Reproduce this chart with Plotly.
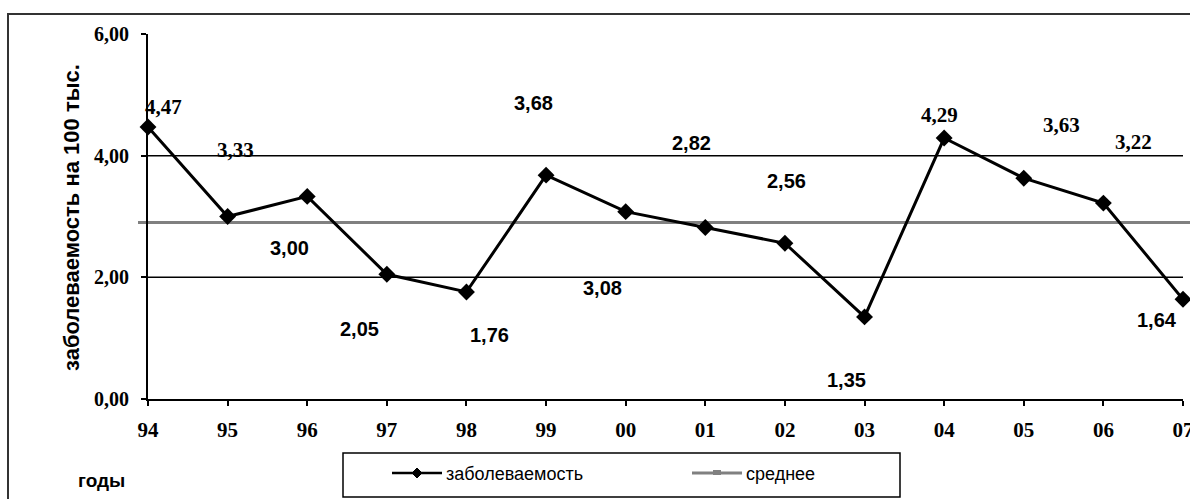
import plotly.graph_objects as go

# --- data -------------------------------------------------------------
years = ["94", "95", "96", "97", "98", "99", "00", "01", "02", "03", "04", "05", "06", "07"]
incidence = [4.47, 3.00, 3.33, 2.05, 1.76, 3.68, 3.08, 2.82, 2.56, 1.35, 4.29, 3.63, 3.22, 1.64]
mean_value = 2.90
y_ticks = [0, 2, 4, 6]
y_tick_text = ["0,00", "2,00", "4,00", "6,00"]
series_names = ["заболеваемость", "среднее"]

# --- label placement (pixel offsets from each point) -------------------
label_dx = [15, 62, -72, -27, 23, -13, -23, -14, 2, -18, -5, 38, 30, -26]
label_dy = [20, -31, 46, -55, -43, 72, -76, 84, 62, -63, 23, 53, 61, -21]
label_serif = [True, False, True, False, False, False, False, False, False, False, True, True, True, False]

W_FIG, H_FIG = 1190, 499
L, R, T, B = 148, 1183, 34, 399  # plot area in pixels


def xp(px):
    return (px - L) / (R - L)


def yp(py):
    return (B - py) / (B - T)


x_pos = list(range(len(years)))

fig = go.Figure()

fig.add_trace(go.Scatter(
    x=x_pos, y=incidence, mode="lines+markers",
    line=dict(color="black", width=3),
    marker=dict(symbol="diamond", size=13, color="black"),
    cliponaxis=False, showlegend=False, name=series_names[0],
))

shapes = []
# horizontal grid lines
for v in y_ticks[1:-1]:
    shapes.append(dict(type="line", xref="paper", yref="y", x0=0, x1=1, y0=v, y1=v,
                       line=dict(color="black", width=1.5), layer="below"))
# mean line
shapes.append(dict(type="line", xref="paper", yref="y", x0=xp(138), x1=xp(1192),
                   y0=mean_value, y1=mean_value,
                   line=dict(color="#808080", width=3), layer="below"))
# outer frame
shapes.append(dict(type="rect", xref="paper", yref="paper", x0=xp(8), x1=xp(1200),
                   y0=yp(14), y1=yp(520), line=dict(color="#333333", width=2)))
# legend box
shapes.append(dict(type="rect", xref="paper", yref="paper", x0=xp(343), x1=xp(900),
                   y0=yp(453), y1=yp(497), line=dict(color="black", width=1.5)))
# legend sample: incidence
shapes.append(dict(type="line", xref="paper", yref="paper", x0=xp(392), x1=xp(442),
                   y0=yp(473), y1=yp(473), line=dict(color="black", width=2.5)))
cx, cy, r = 417, 473, 5
shapes.append(dict(type="path", xref="paper", yref="paper",
                   path=f"M {xp(cx - r)},{yp(cy)} L {xp(cx)},{yp(cy - r)} L {xp(cx + r)},{yp(cy)} L {xp(cx)},{yp(cy + r)} Z",
                   fillcolor="black", line=dict(color="black", width=1)))
# legend sample: mean
shapes.append(dict(type="line", xref="paper", yref="paper", x0=xp(692), x1=xp(742),
                   y0=yp(473), y1=yp(473), line=dict(color="#808080", width=3)))
shapes.append(dict(type="rect", xref="paper", yref="paper", x0=xp(713), x1=xp(721),
                   y0=yp(475), y1=yp(470), fillcolor="#808080", line=dict(width=0)))

annotations = []
for xi, v, dx, dy, serif in zip(x_pos, incidence, label_dx, label_dy, label_serif):
    annotations.append(dict(
        x=xi, y=v, xref="x", yref="y", showarrow=False,
        xanchor="center", yanchor="middle",
        text=f"{v:.2f}".replace(".", ","), xshift=dx, yshift=dy,
        font=dict(family="Liberation Serif" if serif else "Liberation Sans",
                  size=21 if serif else 20, color="black",
                  weight="bold"),
    ))
# axis title
annotations.append(dict(x=xp(72), y=yp(218), xref="paper", yref="paper", showarrow=False,
                        xanchor="center", yanchor="middle",
                        text="заболеваемость на 100 тыс.", textangle=-90,
                        font=dict(family="Liberation Sans", size=22, color="black", weight="bold")))
annotations.append(dict(x=xp(101), y=yp(480), xref="paper", yref="paper", showarrow=False,
                        xanchor="center", yanchor="middle",
                        text="годы",
                        font=dict(family="Liberation Sans", size=19, color="black", weight="bold")))
# legend texts
annotations.append(dict(x=xp(444), y=yp(474), xref="paper", yref="paper", showarrow=False,
                        xanchor="left", yanchor="middle", text=series_names[0],
                        font=dict(family="Liberation Sans", size=18, color="black")))
annotations.append(dict(x=xp(744), y=yp(474), xref="paper", yref="paper", showarrow=False,
                        xanchor="left", yanchor="middle", text=series_names[1],
                        font=dict(family="Liberation Sans", size=18, color="black")))

fig.update_layout(
    width=W_FIG, height=H_FIG,
    margin=dict(l=L, r=W_FIG - R, t=T, b=H_FIG - B, pad=0, autoexpand=False),
    paper_bgcolor="white", plot_bgcolor="white",
    showlegend=False,
    shapes=shapes, annotations=annotations,
    xaxis=dict(
        range=[0, len(years) - 1], automargin=False,
        tickvals=x_pos, ticktext=years,
        showgrid=False, zeroline=False,
        showline=True, linecolor="black", linewidth=2,
        ticks="outside", ticklen=5, tickwidth=1.5, tickcolor="black",
        ticklabelstandoff=6, ticklabeloverflow="allow",
        tickfont=dict(family="Liberation Serif", size=21, color="black", weight="bold"),
    ),
    yaxis=dict(
        range=[0, 6], tickvals=y_ticks, ticktext=y_tick_text, automargin=False,
        showgrid=False, zeroline=False,
        showline=True, linecolor="black", linewidth=2,
        ticks="outside", ticklen=5, tickwidth=1.5, tickcolor="black",
        ticklabelstandoff=8,
        tickfont=dict(family="Liberation Serif", size=20, color="black", weight="bold"),
    ),
)

fig.write_html("out.html")
